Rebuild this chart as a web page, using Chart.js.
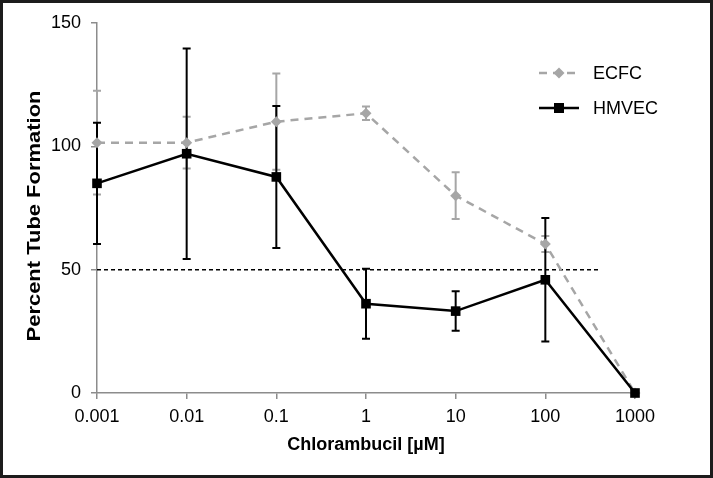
<!DOCTYPE html>
<html>
<head>
<meta charset="utf-8">
<title>Chlorambucil tube formation</title>
<script src="https://cdn.jsdelivr.net/npm/chart.js@4.4.1/dist/chart.umd.min.js"></script>
<style>
  body { margin: 0; background: #fff; }
  .wrap { position: relative; width: 713px; height: 478px; }
  .frame { position: absolute; left: 0; top: 0; width: 713px; height: 478px; box-sizing: border-box;
           border: 3px solid #1c1c1c; pointer-events: none; }
  canvas { position: absolute; left: 0; top: 0; }
</style>
</head>
<body>
<div class="wrap">
  <canvas id="chart" width="713" height="478"></canvas>
  <div class="frame"></div>
</div>

<script>
  // concentrations (uM) - shown as evenly spaced categories
  var xLabels = ['0.001', '0.01', '0.1', '1', '10', '100', '1000'];

  // ECFC, grey dashed, diamonds
  var ecfc    = [101.5, 101.5, 110, 113.4, 80, 60.4, 0];
  var ecfcErr = [21, 10.5, 19.5, 2.7, 9.5, 3.2, 0];

  // HMVEC, black solid, squares
  var hmvec    = [85, 97, 87.6, 36.2, 33.2, 45.9, 0];
  var hmvecErr = [24.6, 42.7, 28.8, 14.2, 8, 25, 0];

  // 50% reference line
  var cutX = [0, 5.61];
  var cutY = [50, 50];

  var yTicks = [0, 50, 100, 150];
  var yTitle = 'Percent Tube Formation';

  var FONT = '"Liberation Sans", Arial, sans-serif';
  var GREY = '#a6a6a6';
  var AXIS = '#8c8c8c';

  function pts(ys) {
    return ys.map(function (v, i) { return { x: i, y: v }; });
  }

  // error bars under the lines
  var errorBars = {
    id: 'errorBars',
    beforeDatasetsDraw: function (chart) {
      var ctx = chart.ctx, xs = chart.scales.x, ys = chart.scales.y;
      var sets = [[ecfc, ecfcErr, GREY], [hmvec, hmvecErr, '#000']];
      ctx.save();
      sets.forEach(function (s) {
        ctx.strokeStyle = s[2];
        ctx.lineWidth = 2;
        s[0].forEach(function (v, i) {
          if (!s[1][i]) return;
          var px = xs.getPixelForValue(i);
          var top = ys.getPixelForValue(v + s[1][i]);
          var bot = ys.getPixelForValue(v - s[1][i]);
          ctx.beginPath();
          ctx.moveTo(px, top); ctx.lineTo(px, bot);
          ctx.moveTo(px - 4, top); ctx.lineTo(px + 4, top);
          ctx.moveTo(px - 4, bot); ctx.lineTo(px + 4, bot);
          ctx.stroke();
        });
      });
      ctx.restore();
    }
  };

  // excel style legend: line + marker + name, and the stretched y title
  var legendBox = {
    id: 'legendBox',
    afterDraw: function (chart) {
      var ctx = chart.ctx, area = chart.chartArea;
      var rows = [
        { name: 'ECFC', y: 73, color: GREY, dash: [8, 6], marker: 'diamond' },
        { name: 'HMVEC', y: 108, color: '#000', dash: [], marker: 'square' }
      ];
      ctx.save();
      rows.forEach(function (r) {
        ctx.strokeStyle = r.color;
        ctx.lineWidth = 2.5;
        ctx.setLineDash(r.dash);
        ctx.beginPath();
        ctx.moveTo(539, r.y); ctx.lineTo(579, r.y);
        ctx.stroke();
        ctx.setLineDash([]);
        ctx.fillStyle = r.color;
        ctx.beginPath();
        if (r.marker === 'diamond') {
          ctx.moveTo(559, r.y - 5.5); ctx.lineTo(564.5, r.y);
          ctx.lineTo(559, r.y + 5.5); ctx.lineTo(553.5, r.y);
          ctx.closePath();
        } else {
          ctx.rect(554, r.y - 5, 10, 10);
        }
        ctx.fill();
        ctx.fillStyle = '#000';
        ctx.font = '18px ' + FONT;
        ctx.textBaseline = 'middle';
        ctx.textAlign = 'left';
        ctx.fillText(r.name, 593, r.y + 1);
      });
      ctx.restore();

      // y title, a bit longer than the font gives (as in the picture)
      ctx.save();
      ctx.translate(35, (area.top + area.bottom) / 2 + 8);
      ctx.rotate(-Math.PI / 2);
      ctx.scale(1.22, 1);
      ctx.font = 'bold 18px ' + FONT;
      ctx.fillStyle = '#000';
      ctx.textAlign = 'center';
      ctx.textBaseline = 'middle';
      ctx.fillText(yTitle, 0, 0);
      ctx.restore();
    }
  };

  var chart = new Chart(document.getElementById('chart'), {
    type: 'line',
    data: {
      datasets: [{
        label: 'HMVEC',
        data: pts(hmvec),
        borderColor: '#000',
        backgroundColor: '#000',
        borderWidth: 2.5,
        pointStyle: 'rect',
        pointRadius: 6.8,
        pointBorderWidth: 0,
        clip: false,
        tension: 0
      }, {
        label: 'ECFC',
        data: pts(ecfc),
        borderColor: GREY,
        backgroundColor: GREY,
        borderWidth: 2.5,
        borderDash: [8, 6],
        pointStyle: 'rectRot',
        pointRadius: 5.5,
        pointBorderWidth: 0,
        clip: false,
        tension: 0
      }, {
        label: 'cutoff',
        data: cutX.map(function (x, i) { return { x: x, y: cutY[i] }; }),
        borderColor: '#000',
        borderWidth: 1.5,
        borderDash: [4, 3],
        pointRadius: 0,
        tension: 0
      }]
    },
    options: {
      responsive: false,
      animation: false,
      events: [],
      layout: { padding: { top: 23, right: 78, bottom: 0, left: 0 } },
      plugins: { legend: { display: false }, tooltip: { enabled: false } },
      scales: {
        x: {
          type: 'linear',
          min: 0, max: 6,
          afterFit: function (s) { s.height = 85; },
          afterBuildTicks: function (s) {
            s.ticks = xLabels.map(function (l, i) { return { value: i }; });
          },
          border: { color: AXIS, width: 1.5 },
          grid: { drawOnChartArea: false, color: AXIS, tickLength: 6, lineWidth: 1.5 },
          ticks: {
            color: '#000', padding: 7, maxRotation: 0,
            font: { family: FONT, size: 18 },
            callback: function (v) { return xLabels[v]; }
          },
          title: {
            display: true, text: 'Chlorambucil [µM]', color: '#000',
            font: { family: FONT, size: 18, weight: 'bold' },
            padding: { top: 22, bottom: 22 }
          }
        },
        y: {
          min: 0, max: 150,
          afterFit: function (s) { s.width = 97; },
          afterBuildTicks: function (s) {
            s.ticks = yTicks.map(function (v) { return { value: v }; });
          },
          border: { color: AXIS, width: 1.5 },
          grid: { drawOnChartArea: false, color: AXIS, tickLength: 6, lineWidth: 1.5 },
          ticks: { color: '#000', padding: 10, font: { family: FONT, size: 18 } },
          title: { display: false }
        }
      }
    },
    plugins: [errorBars, legendBox]
  });
</script>
</body>
</html>
